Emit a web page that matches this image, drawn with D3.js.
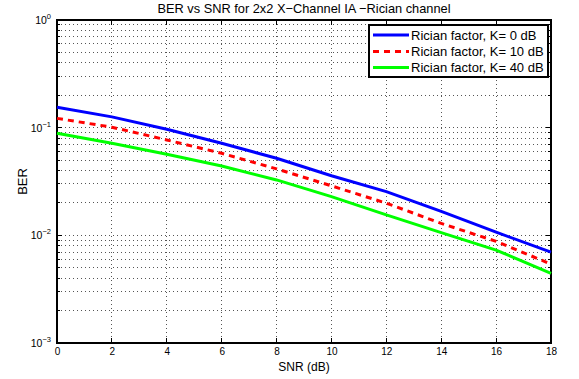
<!DOCTYPE html>
<html><head><meta charset="utf-8">
<script src="https://cdn.jsdelivr.net/npm/d3@7"></script>
<style>body{margin:0;background:#fff;}svg{display:block;font-family:"Liberation Sans",Arial,sans-serif;}</style>
</head><body>
<svg id="c" width="579" height="379"></svg>
<script>
const snr = [0,2,4,6,8,10,12,14,16,18];
const berK0 = [0.155,0.126,0.0966,0.0716,0.052,0.0358,0.0255,0.0167,0.0107,0.00697];
const berK10 = [0.122,0.101,0.0769,0.0578,0.0414,0.0288,0.0199,0.0129,0.0088,0.0054];
const berK40 = [0.0887,0.0716,0.0566,0.0441,0.0327,0.0229,0.0155,0.0106,0.0073,0.00443];
const seriesNames = ["Rician factor, K= 0 dB","Rician factor, K= 10 dB","Rician factor, K= 40 dB"];
const xTicks = [0,2,4,6,8,10,12,14,16,18];
const yDecades = [-3,-2,-1,0];

const svg = d3.select("#c");
const L=57,R=551,T=20,B=343;
const x = d3.scaleLinear().domain([0,18]).range([L,R]);
const y = d3.scaleLog().domain([1e-3,1]).range([B,T]);

// grid
const g = svg.append("g");
const minorVals=[];
for(let e=-3;e<0;e++){for(let m=1;m<=9;m++){minorVals.push(m*Math.pow(10,e));}}
g.selectAll(".gy").data(minorVals.filter(v=>v>1e-3)).enter().append("line")
 .attr("x1",L).attr("x2",R).attr("y1",d=>y(d)).attr("y2",d=>y(d))
 .attr("stroke","#555").attr("stroke-width",1).attr("stroke-dasharray","1,3").attr("shape-rendering","crispEdges");
g.selectAll(".gx").data(xTicks.slice(1,-1)).enter().append("line")
 .attr("x1",d=>x(d)).attr("x2",d=>x(d)).attr("y1",T).attr("y2",B)
 .attr("stroke","#555").attr("stroke-width",1).attr("stroke-dasharray","1,3").attr("shape-rendering","crispEdges");

// tick marks inside
const tk = svg.append("g").attr("stroke","#000").attr("stroke-width",1).attr("shape-rendering","crispEdges");
xTicks.forEach(v=>{
  tk.append("line").attr("x1",x(v)).attr("x2",x(v)).attr("y1",B).attr("y2",B-5);
  tk.append("line").attr("x1",x(v)).attr("x2",x(v)).attr("y1",T).attr("y2",T+5);
});
minorVals.concat([1]).forEach(v=>{
  const len = (Math.abs(Math.log10(v)-Math.round(Math.log10(v)))<1e-9)?5:3;
  tk.append("line").attr("x1",L).attr("x2",L+len).attr("y1",y(v)).attr("y2",y(v));
  tk.append("line").attr("x1",R).attr("x2",R-len).attr("y1",y(v)).attr("y2",y(v));
});

// axes via d3
const xAxis = d3.axisBottom(x).tickValues(xTicks).tickSize(0).tickPadding(5).tickFormat(d3.format("d"));
const xa = svg.append("g").attr("transform",`translate(0,${B})`).call(xAxis);
xa.select(".domain").remove();
xa.selectAll("text").attr("font-size",10).attr("fill","#000").attr("font-family","Liberation Sans, Arial, sans-serif");

const ya = svg.append("g");
yDecades.forEach(e=>{
  const t = ya.append("text").attr("x",L-6).attr("y",y(Math.pow(10,e))+4).attr("text-anchor","end").attr("font-size",10.5).attr("fill","#000");
  t.append("tspan").text("10");
  t.append("tspan").attr("dy",-5).attr("font-size",7.5).text(e===0?"0":"\u2212"+(-e));
});

// box
svg.append("rect").attr("x",L).attr("y",T).attr("width",R-L).attr("height",B-T)
  .attr("fill","none").attr("stroke","#000").attr("stroke-width",1.2).attr("shape-rendering","crispEdges");

// lines
const colors=["#0000ff","#ff0000","#00ff00"];
const dashes=[null,"6,5",null];
const data=[berK0,berK10,berK40];
const line = d3.line().x((d,i)=>x(snr[i])).y(d=>y(d));
data.forEach((s,i)=>{
  svg.append("path").datum(s).attr("d",line).attr("fill","none").attr("stroke",colors[i])
   .attr("stroke-width",3).attr("stroke-dasharray",dashes[i]);
});

// legend
const lg = svg.append("g");
lg.append("rect").attr("x",369).attr("y",25).attr("width",179).attr("height",52)
  .attr("fill","#fff").attr("stroke","#000").attr("stroke-width",1.2).attr("shape-rendering","crispEdges");
const rowsY=[35,51.5,67.5];
seriesNames.forEach((n,i)=>{
  lg.append("line").attr("x1",373).attr("x2",409).attr("y1",rowsY[i]).attr("y2",rowsY[i])
    .attr("stroke",colors[i]).attr("stroke-width",3).attr("stroke-dasharray",dashes[i]);
  lg.append("text").attr("x",411).attr("y",rowsY[i]+4.5).attr("font-size",13).attr("fill","#000").text(n);
});

// titles
svg.append("text").attr("x",(L+R)/2).attr("y",13).attr("text-anchor","middle").attr("font-size",12.8).attr("fill","#000")
 .text("BER vs SNR for 2x2 X\u2212Channel IA \u2212Rician channel");
svg.append("text").attr("x",(L+R)/2).attr("y",371).attr("text-anchor","middle").attr("font-size",12).attr("fill","#000").text("SNR (dB)");
svg.append("text").attr("transform",`translate(27,${(T+B)/2}) rotate(-90)`).attr("text-anchor","middle").attr("font-size",13).attr("fill","#000").text("BER");
</script>
</body></html>
